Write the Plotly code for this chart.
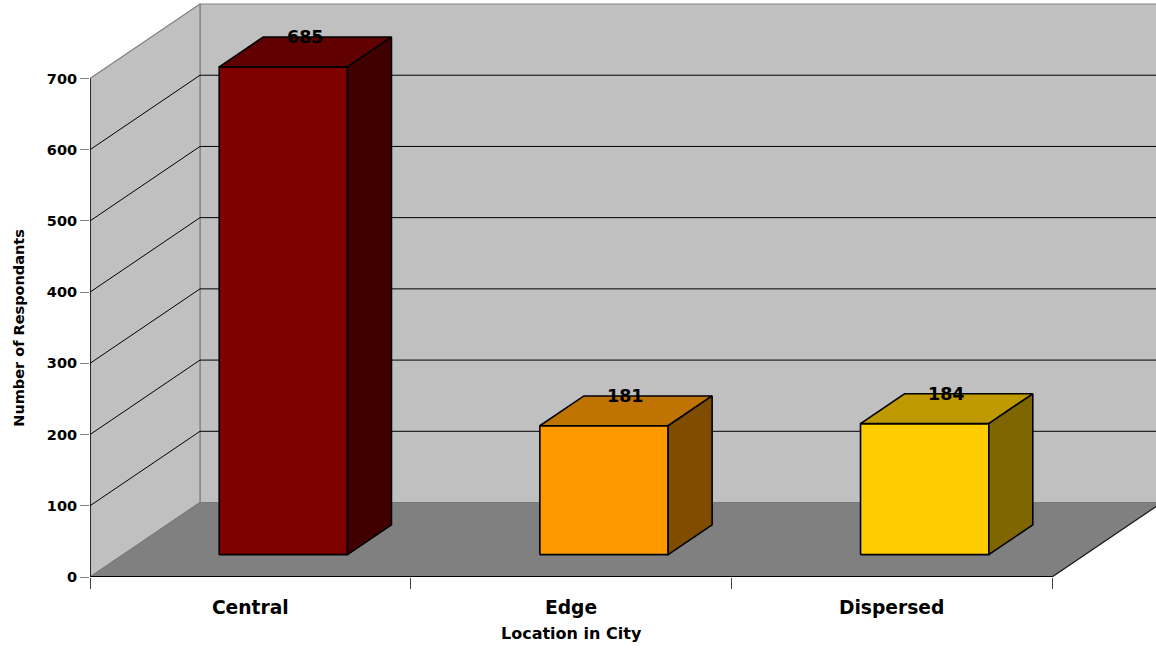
import plotly.graph_objects as go

categories = ["Central", "Edge", "Dispersed"]
respondents = [685, 181, 184]
front_colors = ["#800000", "#FF9900", "#FFCC00"]
top_colors = ["#600000", "#BF7300", "#BF9900"]
side_colors = ["#400000", "#804D00", "#806600"]
y_ticks = [0, 100, 200, 300, 400, 500, 600, 700]

FONT = "DejaVu Sans"
WALL = "#C0C0C0"
FLOOR = "#808080"
EDGE_GRAY = "#808080"

# oblique projection of the depth axis (d in 0..1), in axis units
DEPTH_X = 0.343
DEPTH_Y = 104.6
BAR_HALF = 0.2
BAR_D0, BAR_D1 = 0.3, 0.7
X_MIN, X_MAX = -0.5, len(categories) - 0.5
X_FAR = X_MAX + 1.0
Y_MAX = y_ticks[-1]


def proj(x, y, d):
    return x + d * DEPTH_X, y + d * DEPTH_Y


def polygon(points, fill, line_color, line_width):
    pts = [proj(*p) for p in points]
    pts.append(pts[0])
    return go.Scatter(
        x=[p[0] for p in pts], y=[p[1] for p in pts],
        mode="lines", fill="toself", fillcolor=fill,
        line=dict(color=line_color, width=line_width),
        hoverinfo="skip", showlegend=False,
    )


def polyline(segments, color, width):
    xs, ys = [], []
    for seg in segments:
        for p in seg:
            px, py = proj(*p)
            xs.append(px)
            ys.append(py)
        xs.append(None)
        ys.append(None)
    return go.Scatter(x=xs, y=ys, mode="lines",
                      line=dict(color=color, width=width),
                      hoverinfo="skip", showlegend=False)


fig = go.Figure()

# back wall, left wall and floor
fig.add_trace(polygon([(X_MIN, 0, 1), (X_FAR, 0, 1), (X_FAR, Y_MAX, 1), (X_MIN, Y_MAX, 1)],
                      WALL, EDGE_GRAY, 1.2))
fig.add_trace(polygon([(X_MIN, 0, 0), (X_MIN, Y_MAX, 0), (X_MIN, Y_MAX, 1), (X_MIN, 0, 1)],
                      WALL, EDGE_GRAY, 1.2))
fig.add_trace(polygon([(X_MIN, 0, 0), (X_MAX, 0, 0), (X_MAX, 0, 1), (X_MIN, 0, 1)],
                      FLOOR, "#787878", 1))

# gridlines running along the left wall and across the back wall
fig.add_trace(polyline([[(X_MIN, v, 0), (X_MIN, v, 1), (X_FAR, v, 1)] for v in y_ticks[1:-1]],
                       "#000000", 1))

# front axis edges
fig.add_trace(polyline([[(X_MIN, 0, 0), (X_MIN, Y_MAX, 0)]], "#000000", 1.5))
fig.add_trace(polyline([[(X_MIN, 0, 0), (X_MAX, 0, 0)]], "#000000", 1.8))
fig.add_trace(polyline([[(X_MAX, 0, 0), (X_MAX, 0, 1)]], "#1a1a1a", 1.2))

# 3D bars: front, top and side faces
for i, v in enumerate(respondents):
    x0, x1 = i - BAR_HALF, i + BAR_HALF
    fig.add_trace(polygon([(x0, 0, BAR_D0), (x1, 0, BAR_D0), (x1, v, BAR_D0), (x0, v, BAR_D0)],
                          front_colors[i], "#000000", 1.6))
    fig.add_trace(polygon([(x0, v, BAR_D0), (x1, v, BAR_D0), (x1, v, BAR_D1), (x0, v, BAR_D1)],
                          top_colors[i], "#000000", 1.6))
    fig.add_trace(polygon([(x1, 0, BAR_D0), (x1, 0, BAR_D1), (x1, v, BAR_D1), (x1, v, BAR_D0)],
                          side_colors[i], "#000000", 1.6))

annotations = []
for i, v in enumerate(respondents):
    lx, ly = proj(i, v, BAR_D1)
    annotations.append(dict(
        x=i + 0.5 * DEPTH_X, y=ly, xref="x", yref="y", text=str(v),
        showarrow=False, yanchor="middle", xanchor="center",
        font=dict(family=FONT, size=17.5, color="#000000", weight="bold"),
    ))

annotations.append(dict(
    x=0, y=Y_MAX / 2, xref="paper", yref="y", xshift=-71,
    text="Number of Respondants", textangle=-90, showarrow=False,
    xanchor="center", yanchor="middle",
    font=dict(family=FONT, size=14.5, color="#000000", weight="bold"),
))
annotations.append(dict(
    x=(X_MIN + X_MAX) / 2, y=0, xref="x", yref="paper", yshift=-56,
    text="Location in City", showarrow=False,
    xanchor="center", yanchor="middle",
    font=dict(family=FONT, size=16, color="#000000", weight="bold"),
))

PX_PER_X = 962 / 3
PX_PER_Y = 498.5 / 700

fig.update_layout(
    width=1156, height=648,
    margin=dict(l=90, r=0, t=0, b=71, pad=0),
    paper_bgcolor="#FFFFFF", plot_bgcolor="#FFFFFF",
    showlegend=False,
    annotations=annotations,
    xaxis=dict(
        range=[X_MIN, X_MIN + 1066 / PX_PER_X],
        tickvals=list(range(len(categories))), ticktext=categories,
        ticks="outside", ticklen=14, tickcolor="rgba(0,0,0,0)",
        tickfont=dict(family=FONT, size=18.7, color="#000000", weight="bold"),
        minor=dict(tickvals=[k - 0.5 for k in range(len(categories) + 1)],
                   ticks="outside", ticklen=11, tickcolor="#404040", tickwidth=1,
                   showgrid=False),
        showgrid=False, zeroline=False, showline=False, fixedrange=True,
    ),
    yaxis=dict(
        range=[0, 577 / PX_PER_Y],
        tickvals=y_ticks,
        ticks="outside", ticklen=9, tickcolor="#808080", tickwidth=1.2,
        tickfont=dict(family=FONT, size=14.5, color="#000000", weight="bold"),
        showgrid=False, zeroline=False, showline=False, fixedrange=True,
    ),
)

fig.write_html("out.html")
